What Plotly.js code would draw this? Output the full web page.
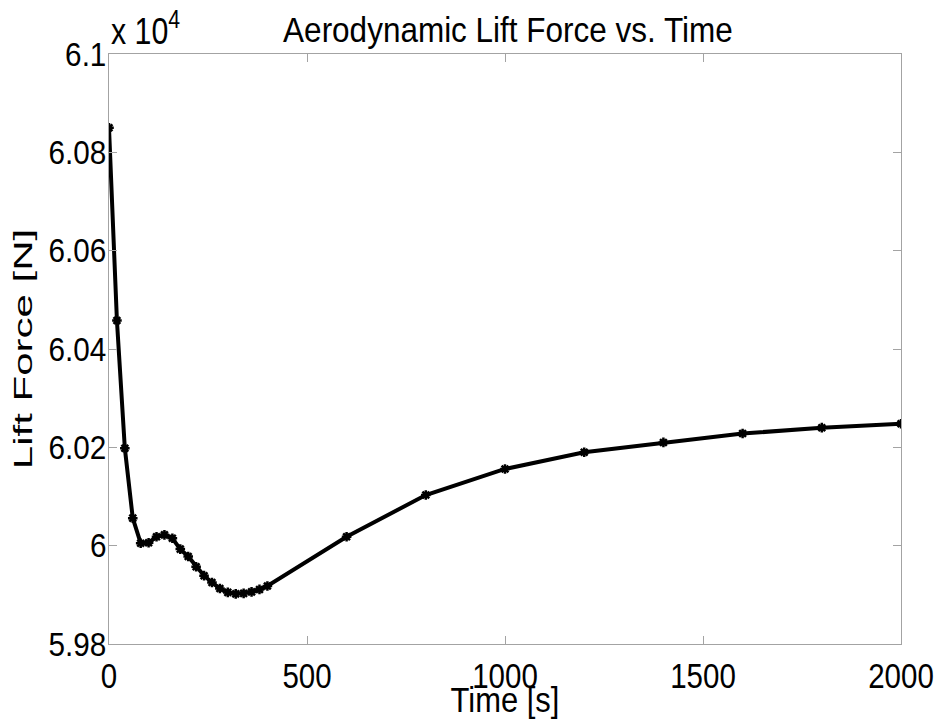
<!DOCTYPE html>
<html>
<head>
<meta charset="utf-8">
<script src="https://cdn.plot.ly/plotly-3.0.1.min.js"></script>
<style>
  html, body { margin: 0; padding: 0; background: #ffffff; }
  #chart { width: 936px; height: 728px; }
</style>
</head>
<body>
<div id="chart"></div>
<script>
// Simulation output: aerodynamic lift over time
const timeSeconds = [
  0, 20, 40, 60, 80, 100, 120, 140, 160, 180, 200,
  220, 240, 260, 280, 300, 320, 340, 360, 380, 400,
  600, 800, 1000, 1200, 1400, 1600, 1800, 2000
];
const liftForceN = [
  60850, 60458, 60198, 60056, 60005, 60006, 60018, 60022, 60015, 59993, 59978,
  59957, 59939, 59925, 59913, 59905, 59902, 59903, 59906, 59911, 59918,
  60018, 60103, 60156, 60190, 60210, 60228, 60240, 60248
];

// Axis ticks (force shown in units of 10^4 N)
const forceTickVals = [59800, 60000, 60200, 60400, 60600, 60800, 61000];
const forceTickText = ['5.98', '6', '6.02', '6.04', '6.06', '6.08', '6.1'];
const timeTickVals = [0, 500, 1000, 1500, 2000];
const timeTickText = ['0', '500', '1000', '1500', '2000'];

const FONT = '"Liberation Sans", Arial, Helvetica, sans-serif';
const AXIS_GRAY = '#a3a3a3';

const trace = {
  x: timeSeconds,
  y: liftForceN,
  type: 'scatter',
  mode: 'lines+markers',
  line: { color: '#000000', width: 4 },
  marker: {
    symbol: 'asterisk-open',
    size: 8,
    color: '#000000',
    line: { color: '#000000', width: 2.5 }
  },
  hoverinfo: 'x+y'
};

const layout = {
  width: 936,
  height: 728,
  paper_bgcolor: '#ffffff',
  plot_bgcolor: '#ffffff',
  margin: { l: 109, r: 35, t: 54, b: 84 },
  showlegend: false,
  font: { family: FONT, size: 34, color: '#000000' },
  title: {
    text: 'Aerodynamic Lift Force vs. Time',
    font: { family: FONT, size: 35, color: '#000000' },
    xref: 'container',
    x: 0.5427,
    xanchor: 'center',
    yref: 'container',
    y: 0.9588,
    yanchor: 'middle'
  },
  xaxis: {
    range: [0, 2000],
    tickvals: timeTickVals,
    ticktext: timeTickText,
    ticks: 'inside',
    ticklen: 8,
    tickwidth: 1,
    tickcolor: AXIS_GRAY,
    showline: true,
    linecolor: AXIS_GRAY,
    linewidth: 1,
    mirror: 'ticks',
    showgrid: false,
    zeroline: false,
    ticklabeloverflow: 'allow',
    tickfont: { family: FONT, size: 36, color: '#000000' },
    automargin: false,
    title: {
      text: 'Time [s]',
      font: { family: FONT, size: 36, color: '#000000' },
      standoff: 0
    }
  },
  yaxis: {
    range: [59800, 61000],
    tickvals: forceTickVals,
    ticktext: forceTickText,
    ticks: 'inside',
    ticklen: 8,
    tickwidth: 1,
    tickcolor: AXIS_GRAY,
    showline: true,
    linecolor: AXIS_GRAY,
    linewidth: 1,
    mirror: 'ticks',
    showgrid: false,
    zeroline: false,
    ticklabeloverflow: 'allow',
    ticklabelstandoff: -5,
    tickfont: { family: FONT, size: 33, color: '#000000' },
    automargin: false,
    title: {
      text: 'Lift Force [N]',
      font: { family: FONT, size: 42, color: '#000000' },
      standoff: 0
    }
  },
  annotations: [
    {
      text: 'x 10<sup>4</sup>',
      xref: 'paper',
      yref: 'paper',
      x: 0,
      y: 1,
      xanchor: 'left',
      yanchor: 'bottom',
      showarrow: false,
      font: { family: FONT, size: 37, color: '#000000' }
    }
  ]
};

// Narrow the lettering horizontally (screen space) around each label's anchor,
// with an optional vertical nudge
function narrowText(root, selector, factor, anchor, dy) {
  root.querySelectorAll(selector).forEach(function (el) {
    const box = el.getBoundingClientRect();
    if (!box.width) return;
    let sx = (box.left + box.right) / 2;
    if (anchor === 'start') sx = box.left;
    if (anchor === 'end') sx = box.right;
    const parent = el.parentNode;
    const inv = parent.getScreenCTM().inverse();
    const svg = el.ownerSVGElement;
    const pt = svg.createSVGPoint();
    pt.x = sx; pt.y = box.top;
    const p = pt.matrixTransform(inv);
    const prev = el.getAttribute('transform') || '';
    el.setAttribute('transform',
      'translate(' + p.x + ',' + (dy || 0) + ') scale(' + factor + ',1) translate(' + (-p.x) + ',0) ' + prev);
  });
}

Plotly.newPlot('chart', [trace], layout, { displayModeBar: false, staticPlot: true })
  .then(function (gd) {
    narrowText(gd, '.xtick text', 0.82, 'middle');
    narrowText(gd, '.ytick text', 0.9, 'end');
    narrowText(gd, '.gtitle', 0.9, 'middle');
    narrowText(gd, '.xtitle', 0.86, 'middle', -8);
    narrowText(gd, '.ytitle', 0.6, 'middle');
    narrowText(gd, '.annotation-text', 0.82, 'start');
  });
</script>
</body>
</html>
